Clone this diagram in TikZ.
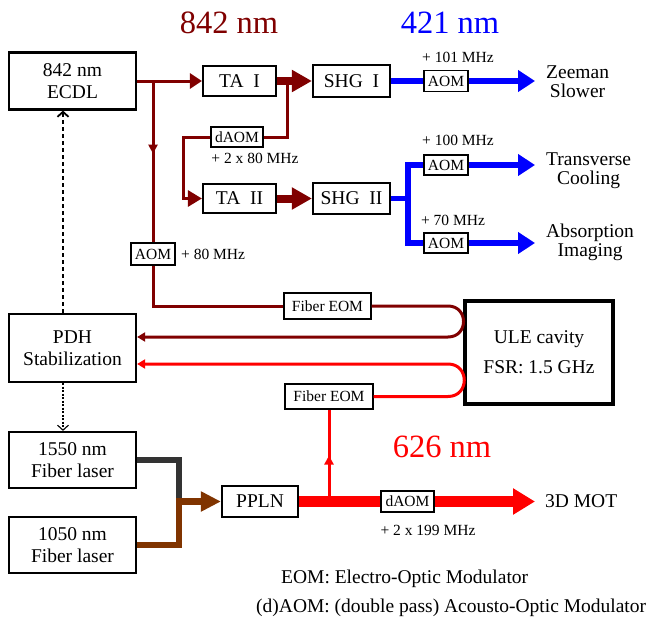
\documentclass[tikz,border=0pt]{standalone}
\usepackage{fontspec}
\setmainfont{Liberation Serif}
\usetikzlibrary{arrows.meta,decorations.markings,calc}
\definecolor{dred}{RGB}{128,0,0}
\definecolor{lblue}{RGB}{0,0,255}
\definecolor{lred}{RGB}{255,0,0}
\definecolor{dgray}{RGB}{51,51,51}
\definecolor{brn}{RGB}{128,52,0}
\newcommand\fbig{\fontsize{19.5}{22}\selectfont}
\newcommand\fsml{\fontsize{15.5}{18}\selectfont}
\newcommand\ftit{\fontsize{32.5}{36}\selectfont}
\begin{document}
\begin{tikzpicture}[x=1pt,y=-1pt,
  bigbox/.style={draw, line width=2.2pt, inner sep=0pt, align=center, font=\fbig, fill=white},
  smbox/.style={draw, line width=1.3pt, inner sep=0pt, align=center, font=\fsml, fill=white},
  lab/.style={inner sep=0pt, font=\fsml},
  biglab/.style={inner sep=0pt, align=center, font=\fontsize{19.5}{19}\selectfont},
  titlelab/.style={inner sep=0pt, font=\ftit},
  thinred/.style={dred, line width=3pt},
  thickred/.style={dred, line width=8pt},
  blu/.style={lblue, line width=5.5pt},
  midarrow/.style={postaction={decorate}, decoration={markings, mark=at position #1 with {\arrow{Triangle[length=9pt,width=9pt]}}}},
  smalltip/.style={-{Triangle[length=8pt,width=9pt]}},
]
\path[use as bounding box, fill=white] (0,0) rectangle (653,618);

% titles
\node[titlelab, text=dred] (t842) at (229,23) {842 nm};
\node[titlelab, text=lblue] (t421) at (450,23) {421 nm};
\node[titlelab, text=lred] (t626) at (442,447) {626 nm};

% boxes
\node[bigbox, minimum width=127pt, minimum height=57pt] (ecdl) at (72.5,81) {842 nm\\ECDL};
\node[bigbox, minimum width=73pt, minimum height=30pt] (taI) at (239.5,81) {TA\ \ I};
\node[bigbox, minimum width=77pt, minimum height=32pt] (shgI) at (351.5,81) {SHG\ \ I};
\node[smbox, minimum width=44pt, minimum height=21pt] (aom1) at (446,81) {AOM};
\node[smbox, minimum width=52pt, minimum height=20pt] (daom1) at (237,137) {dAOM};
\node[bigbox, minimum width=73pt, minimum height=29pt] (taII) at (239.5,198.5) {TA\ \ II};
\node[bigbox, minimum width=77pt, minimum height=31pt] (shgII) at (351.5,198.5) {SHG\ \ II};
\node[smbox, minimum width=44pt, minimum height=20pt] (aom2) at (446,165) {AOM};
\node[smbox, minimum width=44pt, minimum height=20pt] (aom3) at (446,243) {AOM};
\node[smbox, minimum width=44pt, minimum height=22pt] (aom4) at (153,254) {AOM};
\node[smbox, minimum width=87pt, minimum height=26pt] (eom1) at (327.5,306) {Fiber EOM};
\node[bigbox, minimum width=127pt, minimum height=68pt] (pdh) at (72.5,348) {PDH\\Stabilization};
\node[bigbox, line width=3.5pt, minimum width=148pt, minimum height=103pt] (ule) at (539,352.5) {ULE cavity\\[8pt]FSR: 1.5 GHz};
\node[smbox, minimum width=88pt, minimum height=25pt] (eom2) at (329,396.5) {Fiber EOM};
\node[bigbox, minimum width=127pt, minimum height=56pt] (fl1550) at (72.5,460) {1550 nm\\Fiber laser};
\node[bigbox, minimum width=127pt, minimum height=56pt] (fl1050) at (72.5,545) {1050 nm\\Fiber laser};
\node[bigbox, minimum width=76pt, minimum height=31pt] (ppln) at (260,501.5) {PPLN};
\node[smbox, minimum width=53pt, minimum height=21pt] (daom2) at (407.5,501.5) {dAOM};

% labels
\node[lab] (f101) at (458,57) {+ 101 MHz};
\node[lab] (f100) at (458,140) {+ 100 MHz};
\node[lab] (f70) at (453,220) {+ 70 MHz};
\node[lab] (f2x80) at (255,158) {+ 2 x 80 MHz};
\node[lab, anchor=west] (f80) at (181,254) {+ 80 MHz};
\node[lab] (f199) at (428,530) {+ 2 x 199 MHz};
\node[biglab, anchor=west] (zs) at (546,82) {Zeeman\\Slower};
\node[biglab, anchor=west] (tc) at (546,171) {Transverse\\Cooling};
\node[biglab, anchor=west] (ai) at (546,242) {Absorption\\Imaging};
\node[biglab, anchor=west] (mot) at (545,501.5) {3D MOT};
\node[biglab, anchor=west] (leg1) at (281,579) {EOM: Electro-Optic Modulator};
\node[biglab, anchor=west] (leg2) at (256,608) {(d)AOM: (double pass) Acousto-Optic Modulator};

% coordinates
\coordinate (b1) at (153,81);
\coordinate (b2) at (287,81);
\coordinate (e1) at (535,81);
\coordinate (e2) at (535,165);
\coordinate (e3) at (535,243);
\coordinate (e4) at (535,501.5);
\coordinate (bj) at (408,198.5);
\coordinate (c1) at (448,306);
\coordinate (c2) at (448,337);
\coordinate (c3) at (448,396.5);
\coordinate (c4) at (448,364);
\coordinate (rj) at (329,501.5);
\coordinate (jn) at (179,501.5);

% 842 nm paths
\draw[thinred, -{Triangle[length=12pt,width=15pt]}] (ecdl.east) -- (taI.west);
\draw[thinred, midarrow=0.45] (b1) -- (aom4.north);
\draw[thinred] (aom4.south) |- (eom1.west);
\draw[thinred] (b2) |- (daom1.east);
\draw[thickred, -{Triangle[length=20pt,width=21pt]}] (taI.east) -- (shgI.west);
\draw[thinred, -{Triangle[length=14pt,width=16pt]}] (daom1.west) -- ++(-27,0) |- (taII.west);
\draw[thickred, -{Triangle[length=20pt,width=21pt]}] (taII.east) -- (shgII.west);

% 421 nm paths
\draw[blu] (shgI.east) -- (aom1.west);
\draw[blu, -{Triangle[length=17pt,width=21pt]}] (aom1.east) -- (e1);
\draw[blu] (shgII.east) -- (bj);
\draw[blu] (bj) |- (aom2.west);
\draw[blu] (bj) |- (aom3.west);
\draw[blu, -{Triangle[length=17pt,width=21pt]}] (aom2.east) -- (e2);
\draw[blu, -{Triangle[length=17pt,width=21pt]}] (aom3.east) -- (e3);

% cavity loops
\draw[thinred, smalltip] (eom1.east) -- (c1) .. controls +(20.7,0) and +(20.7,0) .. (c2) -- ([yshift=11pt]pdh.east);
\draw[lred, line width=3pt, smalltip] (eom2.east) -- (c3) .. controls +(21.7,0) and +(21.7,0) .. (c4) -- ([yshift=-16pt]pdh.east);

% feedback lines
\draw[black, line width=1.8pt, dash pattern=on 4pt off 3pt, -{Straight Barb[length=5pt,width=11pt]}] ([xshift=-9.5pt]pdh.north) -- ([xshift=-9.5pt]ecdl.south);
\draw[black, line width=1.1pt, dash pattern=on 2pt off 1.5pt, -{Straight Barb[length=5pt,width=11pt]}] ([xshift=-9.5pt]pdh.south) -- ([xshift=-9.5pt]fl1550.north);

% 626 nm
\draw[dgray, line width=6.5pt] (fl1550.east) -| (jn);
\draw[brn, line width=6.5pt, -{Triangle[length=20pt,width=19pt]}] (fl1050.east) -| (jn) -- (ppln.west);
\draw[lred, line width=3pt, midarrow=0.5] (rj) -- (eom2.south);
\draw[lred, line width=10.5pt] (ppln.east) -- (daom2.west);
\draw[lred, line width=10.5pt, -{Triangle[length=22pt,width=25pt]}] (daom2.east) -- (e4);
\end{tikzpicture}
\end{document}
